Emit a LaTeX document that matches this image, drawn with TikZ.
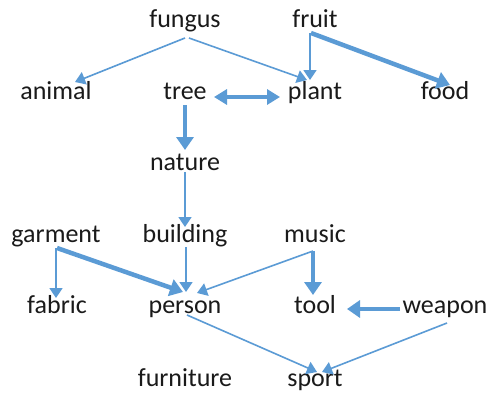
\documentclass[tikz,border=0pt]{standalone}
\usepackage{fontspec}
\setmainfont{Carlito}
\usetikzlibrary{arrows.meta,calc}
\definecolor{edgeblue}{HTML}{5B9BD5}
\definecolor{txt}{HTML}{1A1A1A}
\tikzset{
  lbl/.style={anchor=base, inner sep=0pt, text=txt, font=\fontsize{26}{30}\selectfont},
  thin/.style={draw=edgeblue, line width=1.6pt, -{Triangle[length=10pt,width=13pt]}},
  thick/.style={draw=edgeblue, line width=4.5pt, -{Triangle[length=13pt,width=17pt]}},
  thickboth/.style={draw=edgeblue, line width=4.5pt, {Triangle[length=13pt,width=15pt]}-{Triangle[length=13pt,width=15pt]}}
}
\begin{document}
\begin{tikzpicture}[x=1pt,y=-1pt]
\fill[white] (0,0) rectangle (488,394);
\useasboundingbox (0,0) rectangle (488,394);
% nodes
\node[lbl] (fungus) at (185,27) {fungus};
\node[lbl] (fruit) at (315,27) {fruit};
\node[lbl] (animal) at (56,99) {animal};
\node[lbl] (tree) at (185,99) {tree};
\node[lbl] (plant) at (315,99) {plant};
\node[lbl] (food) at (445,99) {food};
\node[lbl] (nature) at (185,170) {nature};
\node[lbl] (garment) at (56,242) {garment};
\node[lbl] (building) at (185,242) {building};
\node[lbl] (music) at (315,242) {music};
\node[lbl] (fabric) at (57,313) {fabric};
\node[lbl] (person) at (185,313) {person};
\node[lbl] (tool) at (315,313) {tool};
\node[lbl] (weapon) at (445,313) {weapon};
\node[lbl] (furniture) at (185,386) {furniture};
\node[lbl] (sport) at (315,386) {sport};
% connectors
\draw[thin] ($(fungus.base)+(0,11)$) -- ($(animal.base)+(19,-17)$);
\draw[thin] ($(fungus.base)+(4,11)$) -- ($(plant.base)+(-8,-19)$);
\draw[thin] ($(fruit.base)+(-5,6)$) -- ($(plant.base)+(-5,-19)$);
\draw[thick] ($(fruit.base)+(-4,6)$) -- ($(food.base)+(5,-14)$);
\draw[thickboth] ($(tree.base)+(29,-2)$) -- ($(plant.base)+(-35,-2)$);
\draw[thick] ($(tree.base)+(0,6)$) -- ($(nature.base)+(0,-20)$);
\draw[thin] ($(nature.base)+(0,2)$) -- ($(building.base)+(0,-15)$);
\draw[thin] ($(garment.base)+(0,6)$) -- ($(fabric.base)+(-1,-15)$);
\draw[thick] ($(garment.base)+(1,6)$) -- ($(person.base)+(-2,-21)$);
\draw[thin] ($(building.base)+(1,5)$) -- ($(person.base)+(1,-21)$);
\draw[thin] ($(music.base)+(-2,9)$) -- ($(person.base)+(12,-20)$);
\draw[thick] ($(music.base)+(-2,9)$) -- ($(tool.base)+(-2,-18)$);
\draw[thick] ($(weapon.base)+(-45,-4)$) -- ($(tool.base)+(32,-4)$);
\draw[thin] ($(person.base)+(2,2)$) -- ($(sport.base)+(2,-14)$);
\draw[thin] ($(weapon.base)+(2,10)$) -- ($(sport.base)+(7,-14)$);
\end{tikzpicture}
\end{document}
